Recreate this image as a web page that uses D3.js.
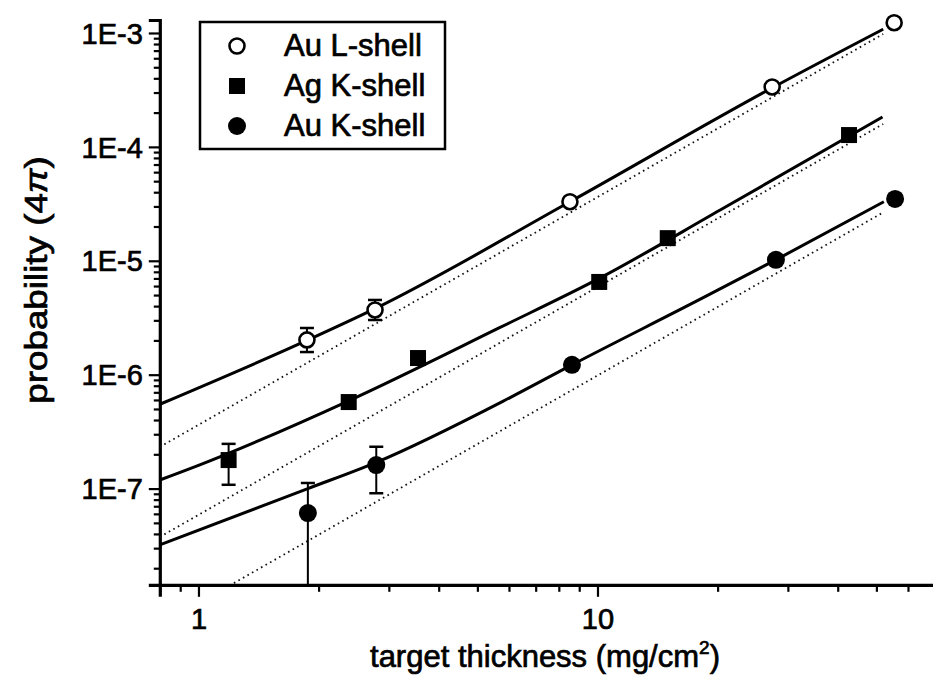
<!DOCTYPE html>
<html>
<head>
<meta charset="utf-8">
<script src="https://cdn.jsdelivr.net/npm/d3@7"></script>
<style>
  html, body { margin: 0; padding: 0; background: #fff; }
  svg { display: block; font-family: "Liberation Sans", Arial, sans-serif; }
</style>
</head>
<body>
<svg id="chart" width="933" height="687"></svg>
<script>
// ---------------- data ----------------
const seriesNames = ["Au L-shell", "Ag K-shell", "Au K-shell"];

// Au L-shell (open circles)
const auLThick = [1.87, 2.77, 8.53, 27.4, 55.4];
const auLProb  = [2.02e-6, 3.70e-6, 3.30e-5, 3.36e-4, 1.23e-3];
const auLErrLo = [1.58e-6, 3.02e-6, null, null, null];
const auLErrHi = [2.57e-6, 4.53e-6, null, null, null];

// Ag K-shell (filled squares)
const agThick = [1.19, 2.38, 3.55, 10.1, 15.0, 42.7];
const agProb  = [1.78e-7, 5.75e-7, 1.40e-6, 6.52e-6, 1.58e-5, 1.27e-4];
const agErrLo = [1.08e-7, null, null, null, null, null];
const agErrHi = [2.47e-7, null, null, null, null, null];

// Au K-shell (filled circles)
const auKThick = [1.88, 2.79, 8.63, 28.0, 55.7];
const auKProb  = [6.1e-8, 1.61e-7, 1.22e-6, 1.02e-5, 3.49e-5];
const auKErrLo = [1e-9, 9.1e-8, null, null, null];
const auKErrHi = [1.12e-7, 2.33e-7, null, null, null];

// solid fit curves
const auLFitThick = [0.8, 1.87, 2.77, 8.53, 27.4, 52];
const auLFitProb  = [5.5e-7, 2.0e-6, 3.8e-6, 3.3e-5, 3.3e-4, 1.08e-3];
const agFitThick  = [0.8, 1.0, 2.38, 5.7, 10.1, 20.3, 51.8];
const agFitProb   = [1.19e-7, 1.6e-7, 5.9e-7, 2.6e-6, 7.0e-6, 2.79e-5, 1.83e-4];
const auKFitThick = [0.8, 1.88, 2.79, 6.04, 8.63, 18.1, 28.0, 52.2];
const auKFitProb  = [3.2e-8, 1.0e-7, 1.7e-7, 6.3e-7, 1.22e-6, 4.6e-6, 1.02e-5, 3.3e-5];

// dotted straight lines (end points)
const auLDotThick = [0.8, 52];
const auLDotProb  = [2.32e-7, 9.8e-4];
const agDotThick  = [0.8, 52];
const agDotProb   = [3.76e-8, 1.59e-4];
const auKDotThick = [1.227, 52];
const auKDotProb  = [1.48e-8, 2.66e-5];

const xMajorTicks = [1, 10];
const xTickLabels = ["1", "10"];
const yMajorTicks = [1e-3, 1e-4, 1e-5, 1e-6, 1e-7];
const yTickLabels = ["1E-3", "1E-4", "1E-5", "1E-6", "1E-7"];
const xTitle = "target thickness (mg/cm";
const yTitle = "probability (4";

// ---------------- chart ----------------
const svg = d3.select("#chart");
const x = d3.scaleLog().domain([0.8, 70]).range([159.8, 934.7]);
const y = d3.scaleLog().domain([1.43e-8, 1.3e-3]).range([584.8, 20]);
const yBottom = y.range()[0];

const zip = (a, b) => a.map((v, i) => [v, b[i]]);
const inkText = sel => sel.attr("fill", "#000").attr("stroke", "#000").attr("stroke-width", 0.7);

// minor ticks
const xMinor = [];
[0.1, 1, 10].forEach(d => { for (let k = 2; k <= 9; k++) { const v = k * d; if (v >= 0.8 && v <= 70 && v !== 1 && v !== 10) xMinor.push(v); } });
const yMinor = [];
[1e-8, 1e-7, 1e-6, 1e-5, 1e-4, 1e-3].forEach(d => { for (let k = 2; k <= 9; k++) { const v = k * d; if (v >= 1.43e-8 && v <= 1.3e-3) yMinor.push(v); } });

// x axis
const xAxisG = svg.append("g").attr("transform", `translate(0,${yBottom})`);
xAxisG.call(d3.axisBottom(x).tickValues(xMajorTicks).tickFormat((d, i) => xTickLabels[i]).tickSize(12).tickPadding(10));
xAxisG.append("g").call(d3.axisBottom(x).tickValues(xMinor).tickFormat("").tickSize(7))
  .select(".domain").remove();
// y axis
const yAxisG = svg.append("g").attr("transform", `translate(${x.range()[0]},0)`);
yAxisG.call(d3.axisLeft(y).tickValues(yMajorTicks).tickFormat((d, i) => yTickLabels[i]).tickSize(11).tickPadding(6));
yAxisG.append("g").call(d3.axisLeft(y).tickValues(yMinor).tickFormat("").tickSize(6))
  .select(".domain").remove();

svg.selectAll(".domain").attr("stroke", "#000").attr("stroke-width", 3.2);
svg.selectAll(".tick line").attr("stroke", "#000").attr("stroke-width", 2.2);
svg.selectAll(".tick text").style("font-family", "'Liberation Sans', Arial, sans-serif")
  .style("font-size", "29px").call(inkText);
xAxisG.selectAll(".tick text").attr("dy", "0.75em");
yAxisG.selectAll(".tick text").attr("dy", "0.35em");

// axis titles
const xt = svg.append("text").attr("x", 545).attr("y", 667).attr("text-anchor", "middle")
  .style("font-size", "31px").call(inkText);
xt.append("tspan").text(xTitle);
xt.append("tspan").text("2").attr("dy", -13).style("font-size", "19px");
xt.append("tspan").text(")").attr("dy", 13);

const yt = svg.append("text").attr("transform", "translate(47,280) rotate(-90) scale(1.15,1)").attr("text-anchor", "middle")
  .style("font-size", "32px").call(inkText);
yt.append("tspan").text(yTitle);
yt.append("tspan").text("\u03C0").style("font-style", "italic");
yt.append("tspan").text(")");

// lines
const line = d3.line().x(d => x(d[0])).y(d => y(d[1]));
const curve = d3.line().x(d => x(d[0])).y(d => y(d[1])).curve(d3.curveMonotoneX);

const plot = svg.append("g");
[[auLDotThick, auLDotProb], [agDotThick, agDotProb], [auKDotThick, auKDotProb]].forEach(([t, p]) => {
  plot.append("path").attr("d", line(zip(t, p))).attr("fill", "none")
    .attr("stroke", "#111").attr("stroke-width", 1.8).attr("stroke-dasharray", "1.6,3.6");
});
[[auLFitThick, auLFitProb], [agFitThick, agFitProb], [auKFitThick, auKFitProb]].forEach(([t, p]) => {
  plot.append("path").attr("d", curve(zip(t, p))).attr("fill", "none")
    .attr("stroke", "#000").attr("stroke-width", 3);
});

// error bars
function errorBars(t, lo, hi) {
  t.forEach((v, i) => {
    if (lo[i] == null) return;
    const cx = x(v);
    const y1 = Math.min(y(lo[i]), yBottom), y2 = y(hi[i]);
    plot.append("line").attr("x1", cx).attr("x2", cx).attr("y1", y1).attr("y2", y2)
      .attr("stroke", "#000").attr("stroke-width", 2);
    plot.append("line").attr("x1", cx - 7).attr("x2", cx + 7).attr("y1", y2).attr("y2", y2)
      .attr("stroke", "#000").attr("stroke-width", 2.5);
    if (y(lo[i]) < yBottom) {
      plot.append("line").attr("x1", cx - 7).attr("x2", cx + 7).attr("y1", y1).attr("y2", y1)
        .attr("stroke", "#000").attr("stroke-width", 2.5);
    }
  });
}
errorBars(auLThick, auLErrLo, auLErrHi);
errorBars(agThick, agErrLo, agErrHi);
errorBars(auKThick, auKErrLo, auKErrHi);

// markers
const symOpen = (g, cx, cy) => g.append("circle").attr("cx", cx).attr("cy", cy).attr("r", 7.5)
  .attr("fill", "#fff").attr("stroke", "#000").attr("stroke-width", 2.6);
const symSquare = (g, cx, cy) => g.append("rect").attr("x", cx - 8).attr("y", cy - 8).attr("width", 16).attr("height", 16)
  .attr("fill", "#000");
const symDot = (g, cx, cy) => g.append("circle").attr("cx", cx).attr("cy", cy).attr("r", 9).attr("fill", "#000");

zip(auLThick, auLProb).forEach(d => symOpen(plot, x(d[0]), y(d[1])));
zip(agThick, agProb).forEach(d => symSquare(plot, x(d[0]), y(d[1])));
zip(auKThick, auKProb).forEach(d => symDot(plot, x(d[0]), y(d[1])));

// legend
const lg = svg.append("g");
lg.append("rect").attr("x", 200).attr("y", 22).attr("width", 245).attr("height", 127)
  .attr("fill", "#fff").attr("stroke", "#000").attr("stroke-width", 2.5);
const syms = [symOpen, symSquare, symDot];
seriesNames.forEach((name, i) => {
  const cy = 46 + i * 40;
  syms[i](lg, 237, cy);
  lg.append("text").attr("x", 284).attr("y", cy + 10).text(name)
    .style("font-size", "31px").call(inkText);
});
</script>
</body>
</html>
